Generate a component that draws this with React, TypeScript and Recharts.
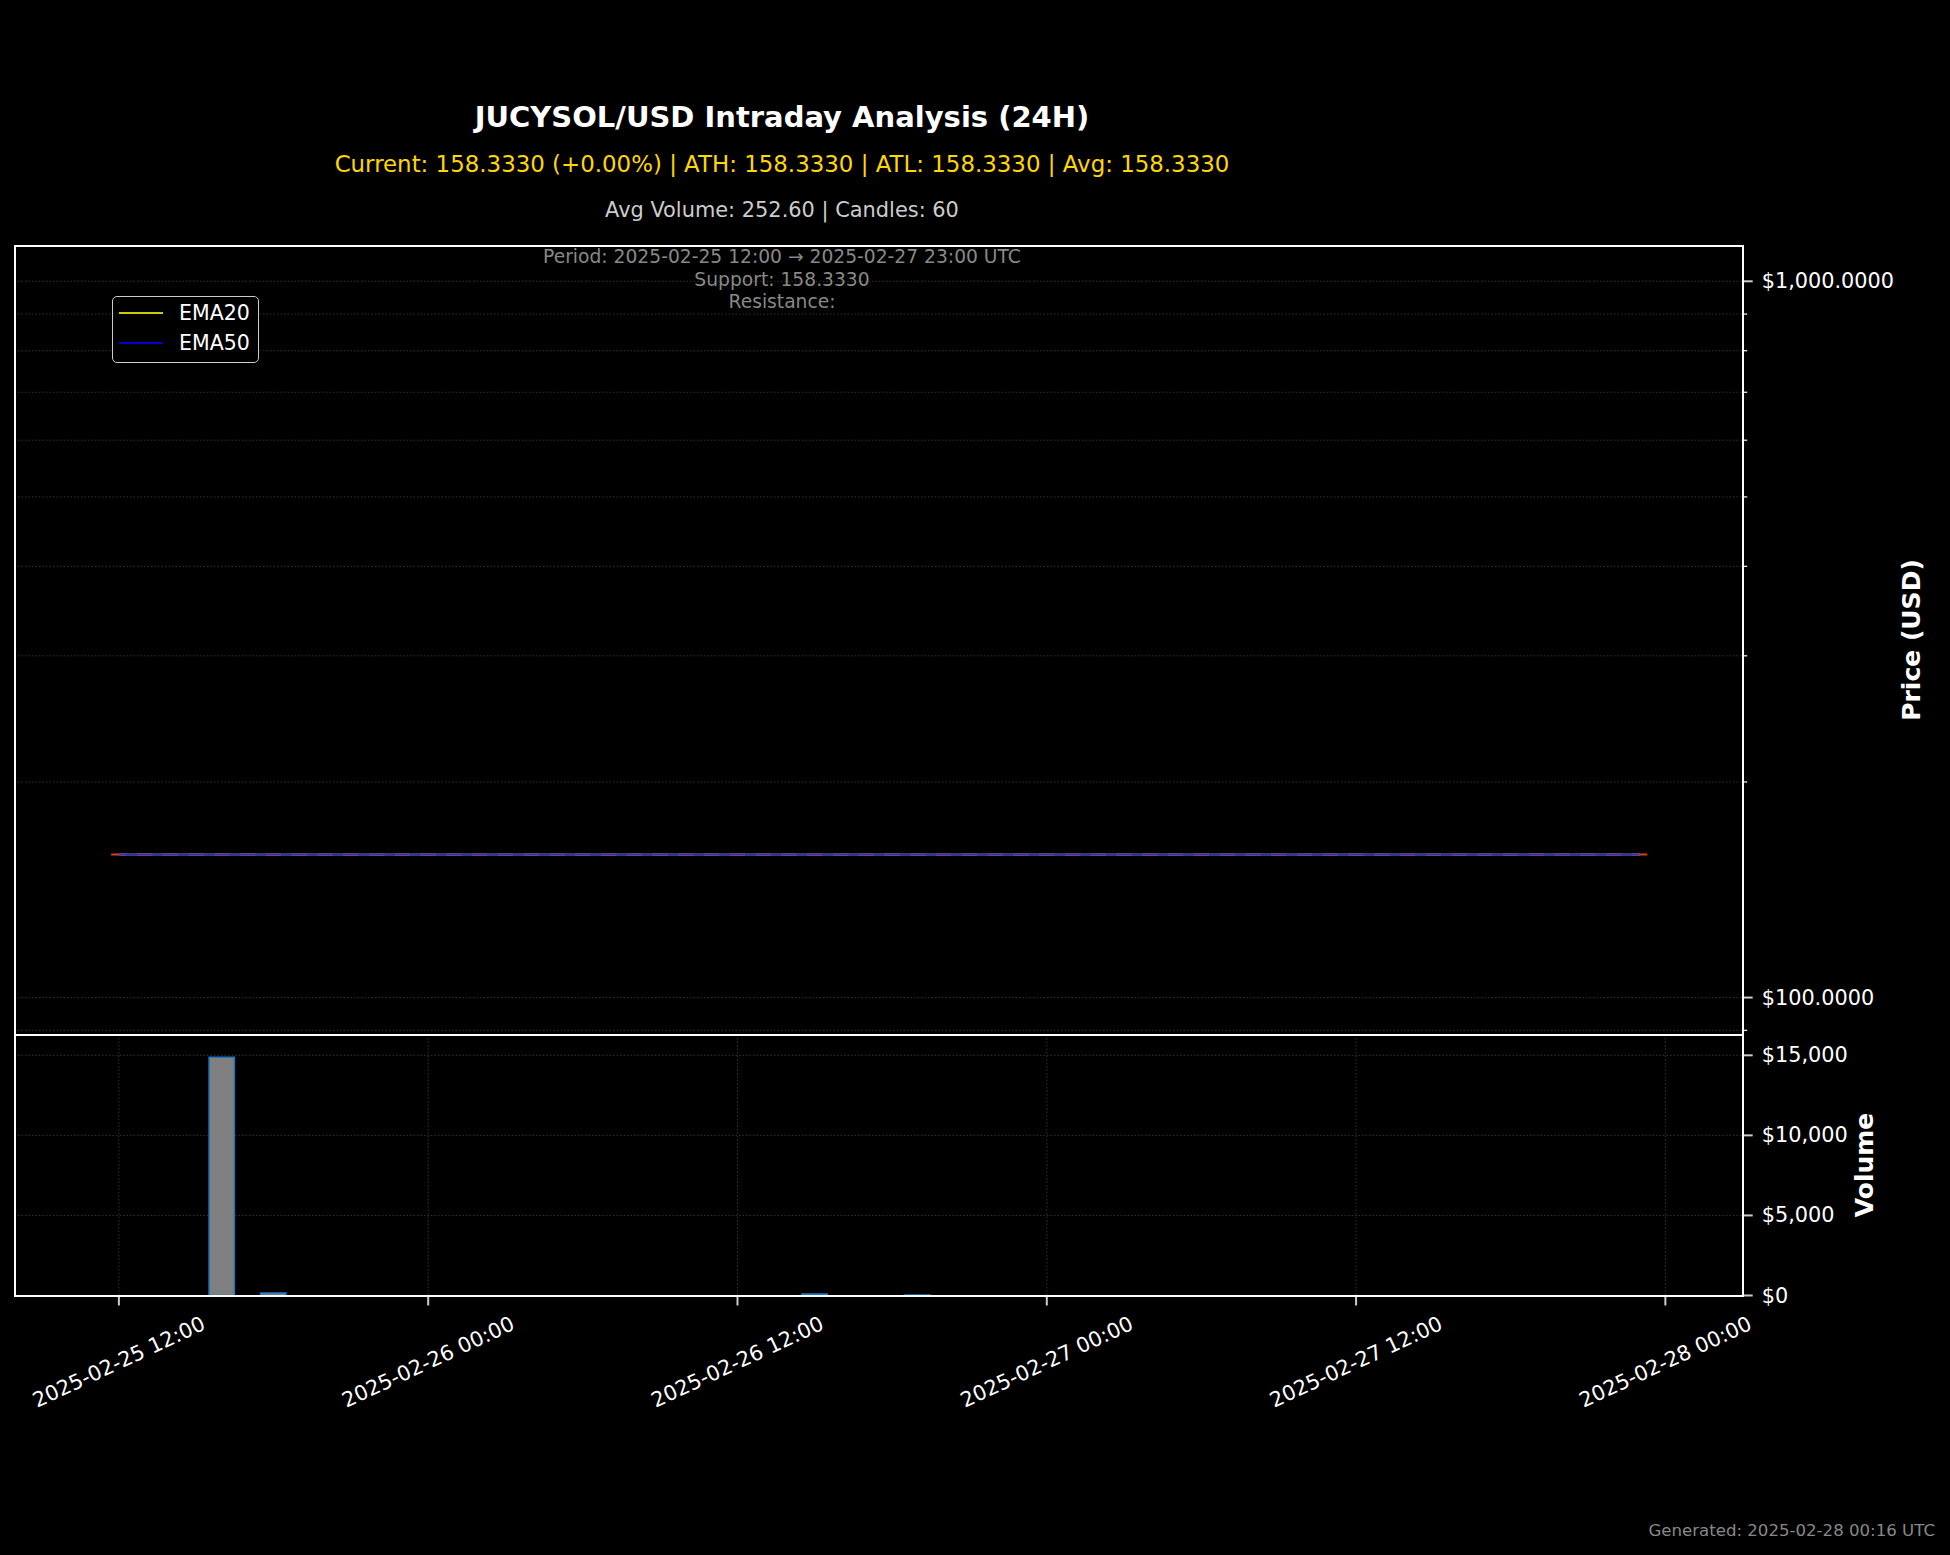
import React from 'react';
import { ComposedChart, Line, Bar, Scatter, XAxis, YAxis, CartesianGrid } from 'recharts';

// hours since 2025-02-25 12:00 UTC, one candle per hour
const hours = [
  0, 1, 2, 3, 4, 5, 6, 7, 8, 9,
  10, 11, 12, 13, 14, 15, 16, 17, 18, 19,
  20, 21, 22, 23, 24, 25, 26, 27, 28, 29,
  30, 31, 32, 33, 34, 35, 36, 37, 38, 39,
  40, 41, 42, 43, 44, 45, 46, 47, 48, 49,
  50, 51, 52, 53, 54, 55, 56, 57, 58, 59,
];

const closePrices = [
  158.333, 158.333, 158.333, 158.333, 158.333, 158.333, 158.333, 158.333, 158.333, 158.333,
  158.333, 158.333, 158.333, 158.333, 158.333, 158.333, 158.333, 158.333, 158.333, 158.333,
  158.333, 158.333, 158.333, 158.333, 158.333, 158.333, 158.333, 158.333, 158.333, 158.333,
  158.333, 158.333, 158.333, 158.333, 158.333, 158.333, 158.333, 158.333, 158.333, 158.333,
  158.333, 158.333, 158.333, 158.333, 158.333, 158.333, 158.333, 158.333, 158.333, 158.333,
  158.333, 158.333, 158.333, 158.333, 158.333, 158.333, 158.333, 158.333, 158.333, 158.333,
];

const ema20 = [
  158.333, 158.333, 158.333, 158.333, 158.333, 158.333, 158.333, 158.333, 158.333, 158.333,
  158.333, 158.333, 158.333, 158.333, 158.333, 158.333, 158.333, 158.333, 158.333, 158.333,
  158.333, 158.333, 158.333, 158.333, 158.333, 158.333, 158.333, 158.333, 158.333, 158.333,
  158.333, 158.333, 158.333, 158.333, 158.333, 158.333, 158.333, 158.333, 158.333, 158.333,
  158.333, 158.333, 158.333, 158.333, 158.333, 158.333, 158.333, 158.333, 158.333, 158.333,
  158.333, 158.333, 158.333, 158.333, 158.333, 158.333, 158.333, 158.333, 158.333, 158.333,
];

const ema50 = [
  158.333, 158.333, 158.333, 158.333, 158.333, 158.333, 158.333, 158.333, 158.333, 158.333,
  158.333, 158.333, 158.333, 158.333, 158.333, 158.333, 158.333, 158.333, 158.333, 158.333,
  158.333, 158.333, 158.333, 158.333, 158.333, 158.333, 158.333, 158.333, 158.333, 158.333,
  158.333, 158.333, 158.333, 158.333, 158.333, 158.333, 158.333, 158.333, 158.333, 158.333,
  158.333, 158.333, 158.333, 158.333, 158.333, 158.333, 158.333, 158.333, 158.333, 158.333,
  158.333, 158.333, 158.333, 158.333, 158.333, 158.333, 158.333, 158.333, 158.333, 158.333,
];

const volumes = [
  0, 0, 0, 0, 14880, 0, 150, 0, 0, 0,
  0, 0, 0, 0, 0, 0, 0, 0, 0, 0,
  0, 0, 0, 0, 0, 0, 0, 90, 0, 0,
  0, 36, 0, 0, 0, 0, 0, 0, 0, 0,
  0, 0, 0, 0, 0, 0, 0, 0, 0, 0,
  0, 0, 0, 0, 0, 0, 0, 0, 0, 0,
];

const hourTicks = [0, 12, 24, 36, 48, 60];
const hourTickLabels = [
  '2025-02-25 12:00', '2025-02-26 00:00', '2025-02-26 12:00',
  '2025-02-27 00:00', '2025-02-27 12:00', '2025-02-28 00:00',
];
const priceTicks = [90, 100, 200, 300, 400, 500, 600, 700, 800, 900, 1000];
const priceMajorTicks = [100, 1000];
const volumeTicks = [0, 5000, 10000, 15000];

const FONT = '"DejaVu Sans", Verdana, sans-serif';
const X_DOMAIN: [number, number] = [-4.05, 63.0];
const PRICE_DOMAIN: [number, number] = [88.8, 1122];
const VOLUME_DOMAIN: [number, number] = [0, 16300];
const PLOT_LEFT = 14.5;
const PLOT_RIGHT = 1742.7;
const PRICE_TOP = 245.5;
const PRICE_BOTTOM = 1034.5;
const VOL_BOTTOM = 1295.5;
const AXIS_W = 1950 - PLOT_RIGHT;
const PX_PER_HOUR = (PLOT_RIGHT - PLOT_LEFT) / (X_DOMAIN[1] - X_DOMAIN[0]);
const GRID_COLOR = '#3b3412';
const TICK_FONT = 20.8;

const priceData = hours.map((t, i) => ({ t, close: closePrices[i], ema20: ema20[i], ema50: ema50[i] }));
const volumeData = hours.map((t, i) => ({ t, volume: volumes[i] }));

const PriceTick = (props: any) => {
  const { x, y, payload } = props;
  const major = priceMajorTicks.includes(payload.value);
  return (
    <g>
      <line x1={x} x2={x + (major ? 10 : 4.5)} y1={y} y2={y} stroke={major ? '#cccccc' : '#ffffff'} strokeWidth={major ? 2 : 1.2} />
      {major && (
        <text x={x + 19} y={y} dominantBaseline="central" fill="#ffffff" fontSize={TICK_FONT} fontFamily={FONT}>
          {'$' + payload.value.toLocaleString('en-US', { minimumFractionDigits: 4, maximumFractionDigits: 4 })}
        </text>
      )}
    </g>
  );
};

const VolumeTick = (props: any) => {
  const { x, y, payload } = props;
  return (
    <g>
      <line x1={x} x2={x + 10} y1={y} y2={y} stroke="#cccccc" strokeWidth={2} />
      <text x={x + 19} y={y} dominantBaseline="central" fill="#ffffff" fontSize={TICK_FONT} fontFamily={FONT}>
        {'$' + payload.value.toLocaleString('en-US')}
      </text>
    </g>
  );
};

const TimeTick = (props: any) => {
  const { x, y, payload } = props;
  const label = hourTickLabels[hourTicks.indexOf(payload.value)];
  const cy = y + 66.5;
  return (
    <g>
      <line x1={x} x2={x} y1={y} y2={y + 10} stroke="#cccccc" strokeWidth={2} />
      <text x={x} y={cy} textAnchor="middle" dominantBaseline="central" transform={`rotate(-25 ${x} ${cy})`}
        fill="#ffffff" fontSize={TICK_FONT} fontFamily={FONT}>
        {label}
      </text>
    </g>
  );
};

// candle body: open == close, so each candle is a flat red bar 0.6h wide
const CandleShape = (props: any) => {
  const { cx, cy } = props;
  const half = (0.6 * PX_PER_HOUR) / 2;
  return <line x1={cx - half} x2={cx + half} y1={cy} y2={cy} stroke="#dd3b30" strokeWidth={2} />;
};

const abs = (left: number, top: number, extra: React.CSSProperties = {}): React.CSSProperties => ({
  position: 'absolute', left, top, transform: 'translate(-50%, -50%)', whiteSpace: 'nowrap', ...extra,
});

const priceMargin = { top: PRICE_TOP, left: PLOT_LEFT, right: 0, bottom: 1040 - PRICE_BOTTOM };

export default function App() {
  return (
    <div style={{ position: 'absolute', left: 0, top: 0, width: 1950, height: 1555, background: '#000000', fontFamily: FONT, overflow: 'hidden' }}>
      <div style={abs(782, 117, { color: '#ffffff', fontSize: 29, fontWeight: 'bold' })}>JUCYSOL/USD Intraday Analysis (24H)</div>
      <div style={abs(782, 164, { color: '#ffd700', fontSize: 22.9 })}>
        Current: 158.3330 (+0.00%) | ATH: 158.3330 | ATL: 158.3330 | Avg: 158.3330
      </div>
      <div style={abs(782, 210, { color: '#cccccc', fontSize: 20.9 })}>Avg Volume: 252.60 | Candles: 60</div>

      {/* price panel: grid, axis and candles */}
      <div style={{ position: 'absolute', left: 0, top: 0 }}>
        <ComposedChart width={1950} height={1040} data={priceData} margin={priceMargin}>
          <CartesianGrid stroke={GRID_COLOR} strokeDasharray="1.5 2" />
          <XAxis dataKey="t" type="number" domain={X_DOMAIN} allowDataOverflow ticks={hourTicks} interval={0}
            height={0} tick={false} axisLine={false} tickLine={false} />
          <YAxis orientation="right" type="number" scale="log" domain={PRICE_DOMAIN} allowDataOverflow
            ticks={priceTicks} interval={0} width={AXIS_W} tickSize={0} tickMargin={0}
            axisLine={false} tickLine={false} tick={<PriceTick />} />
          <Scatter dataKey="close" shape={<CandleShape />} isAnimationActive={false} />
        </ComposedChart>
      </div>

      {/* price panel: EMA lines on top of the candles */}
      <div style={{ position: 'absolute', left: 0, top: 0 }}>
        <ComposedChart width={1950} height={1040} data={priceData} margin={priceMargin}>
          <XAxis dataKey="t" type="number" domain={X_DOMAIN} allowDataOverflow ticks={hourTicks} interval={0}
            height={0} tick={false} axisLine={false} tickLine={false} />
          <YAxis orientation="right" type="number" scale="log" domain={PRICE_DOMAIN} allowDataOverflow
            ticks={priceTicks} interval={0} width={AXIS_W} tick={false} axisLine={false} tickLine={false} />
          <Line dataKey="ema20" stroke="#ffff00" strokeOpacity={0.8} strokeWidth={2} dot={false} isAnimationActive={false} />
          <Line dataKey="ema50" stroke="#0000ff" strokeOpacity={0.8} strokeWidth={2} dot={false} isAnimationActive={false} />
        </ComposedChart>
      </div>

      <div style={{ position: 'absolute', left: 0, top: 1000 }}>
        <ComposedChart width={1950} height={555} data={volumeData}
          margin={{ top: PRICE_BOTTOM - 1000, left: PLOT_LEFT, right: 0, bottom: 555 - (VOL_BOTTOM - 1000) - 200 }}>
          <CartesianGrid stroke={GRID_COLOR} strokeDasharray="1.5 2" />
          <XAxis dataKey="t" type="number" domain={X_DOMAIN} allowDataOverflow ticks={hourTicks} interval={0}
            height={200} tickSize={0} tickMargin={0} axisLine={false} tickLine={false} tick={<TimeTick />} />
          <YAxis orientation="right" type="number" domain={VOLUME_DOMAIN} allowDataOverflow ticks={volumeTicks}
            interval={0} width={AXIS_W} tickSize={0} tickMargin={0} axisLine={false} tickLine={false} tick={<VolumeTick />} />
          <Bar dataKey="volume" barSize={0.98 * PX_PER_HOUR} fill="#808080" stroke="#1f77c4" strokeWidth={1.5} isAnimationActive={false} />
        </ComposedChart>
      </div>

      {/* panel frames */}
      <div style={{ position: 'absolute', left: PLOT_LEFT - 1, top: PRICE_TOP - 1, width: PLOT_RIGHT - PLOT_LEFT + 2, height: PRICE_BOTTOM - PRICE_TOP + 2, border: '2px solid #ffffff', boxSizing: 'border-box', pointerEvents: 'none' }} />
      <div style={{ position: 'absolute', left: PLOT_LEFT - 1, top: PRICE_BOTTOM - 1, width: PLOT_RIGHT - PLOT_LEFT + 2, height: VOL_BOTTOM - PRICE_BOTTOM + 2, border: '2px solid #ffffff', boxSizing: 'border-box', pointerEvents: 'none' }} />

      {/* info box inside price panel */}
      <div style={abs(782, 256, { color: '#888888', fontSize: 18.7 })}>Period: 2025-02-25 12:00 → 2025-02-27 23:00 UTC</div>
      <div style={abs(782, 278.5, { color: '#888888', fontSize: 18.7 })}>Support: 158.3330</div>
      <div style={abs(782, 300.5, { color: '#888888', fontSize: 18.7 })}>Resistance: </div>

      {/* legend */}
      <div style={{ position: 'absolute', left: 112, top: 295.7, width: 147, height: 67, border: '1.5px solid #cccccc', borderRadius: 5, boxSizing: 'border-box', background: 'rgba(0,0,0,0.8)' }}>
        <svg width={147} height={67} style={{ position: 'absolute', left: -1.5, top: -1.5 }}>
          <line x1={7} x2={51} y1={18} y2={18} stroke="#ffff00" strokeOpacity={0.8} strokeWidth={2} />
          <line x1={7} x2={51} y1={48} y2={48} stroke="#0000ff" strokeOpacity={0.8} strokeWidth={2} />
          <text x={67} y={18} dominantBaseline="central" fill="#ffffff" fontSize={20.5} fontFamily={FONT}>EMA20</text>
          <text x={67} y={48} dominantBaseline="central" fill="#ffffff" fontSize={20.5} fontFamily={FONT}>EMA50</text>
        </svg>
      </div>

      {/* axis titles */}
      <div style={abs(1911, 640, { color: '#ffffff', fontSize: 25, fontWeight: 'bold', transform: 'translate(-50%, -50%) rotate(-90deg)' })}>Price (USD)</div>
      <div style={abs(1864, 1165, { color: '#ffffff', fontSize: 25, fontWeight: 'bold', transform: 'translate(-50%, -50%) rotate(-90deg)' })}>Volume</div>

      <div style={{ position: 'absolute', right: 15, top: 1530, transform: 'translateY(-50%)', color: '#888888', fontSize: 16.6, whiteSpace: 'nowrap' }}>
        Generated: 2025-02-28 00:16 UTC
      </div>
    </div>
  );
}
